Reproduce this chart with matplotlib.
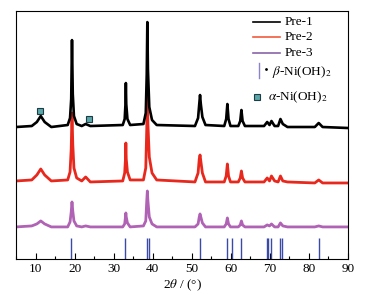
import matplotlib
matplotlib.use('Agg')
import matplotlib.pyplot as plt
from matplotlib.lines import Line2D
from matplotlib.ticker import MultipleLocator

plt.rcParams['font.family'] = ['Liberation Serif', 'DejaVu Serif']
plt.rcParams['mathtext.fontset'] = 'stix'

# 2theta sample points (shared by the three patterns)
two_theta = [5,
             9.0, 10.3, 11.3, 12.3, 14.0,
             18.2, 18.8, 19.1, 19.3, 19.5, 19.8, 20.5,
             21.8, 22.8, 24.0,
             32.3, 32.8, 33.0, 33.1, 33.2, 33.5, 34.2,
             37.6, 38.2, 38.45, 38.6, 38.75, 39.1, 39.8, 41.0,
             50.8, 51.6, 51.9, 52.1, 52.3, 52.7, 53.5,
             58.3, 58.8, 59.1, 59.4, 59.9,
             61.9, 62.4, 62.7, 63.0, 63.6,
             68.5, 69.3, 69.9, 70.4, 71.2,
             72.1, 72.7, 73.3, 74.5,
             81.5, 82.5, 83.5,
             90]

# intensities (a.u., already stacked)
pre1 = [132,
        133, 137, 143, 137, 132,
        134, 141, 160, 219, 165, 143, 135,
        133, 135, 133,
        134, 140, 155, 176, 155, 140, 134,
        135, 146, 185, 237, 190, 152, 139, 134,
        133, 141, 155, 164, 155, 142, 134,
        133, 140, 155, 140, 133,
        133, 138, 149, 138, 133,
        133, 137, 134, 138, 133,
        133, 140, 135, 132,
        132, 136, 132,
        131]
pre2 = [78,
        79, 84, 90, 84, 78,
        79, 87, 110, 146, 115, 91, 81,
        78, 82, 77,
        78, 86, 100, 116, 100, 87, 79,
        79, 91, 130, 164, 135, 102, 86, 79,
        77, 86, 100, 104, 98, 86, 77,
        77, 83, 95, 83, 77,
        77, 81, 88, 81, 77,
        77, 81, 78, 83, 78,
        77, 83, 78, 77,
        76, 79, 76,
        76]
pre3 = [32,
        33, 35, 38, 35, 32,
        32, 37, 47, 57, 48, 38, 33,
        32, 33, 32,
        32, 35, 42, 46, 42, 36, 32,
        33, 38, 58, 68, 58, 42, 35, 32,
        32, 35, 42, 45, 42, 36, 32,
        32, 35, 41, 35, 32,
        32, 34, 38, 34, 32,
        32, 34, 33, 35, 32,
        32, 36, 33, 32,
        32, 33, 32,
        32]

# beta-Ni(OH)2 reference reflections
beta_pos = [19.1, 33.0, 38.4, 39.0, 52.05, 59.05, 60.2, 62.6, 69.2, 69.5,
            70.3, 72.6, 73.0, 82.6]
# alpha-Ni(OH)2 markers on Pre-1
alpha_pos = [11.2, 23.7]
alpha_y = [148, 140]

fig = plt.figure(figsize=(3.76, 3.0), dpi=100)
ax = fig.add_axes([0.043, 0.137, 0.8825, 0.826])

ax.plot(two_theta, pre3, color='#b062b4', lw=2.0)
ax.plot(two_theta, pre2, color='#e8281c', lw=2.0)
ax.plot(two_theta, pre1, color='black', lw=1.9)
ax.vlines(beta_pos, 0, 21, color='#3a4aa6', lw=1.0)
ax.plot(alpha_pos, alpha_y, 's', ms=4.5, mfc='#5aa6a8', mec='#1e3c46', mew=0.8)

ax.set_xlim(5, 90)
ax.set_ylim(0, 248)
ax.set_yticks([])
ax.xaxis.set_major_locator(MultipleLocator(10))
ax.xaxis.set_minor_locator(MultipleLocator(5))
ax.tick_params(axis='x', which='major', direction='in', length=4, width=0.8,
               labelsize=9.5, pad=3)
ax.tick_params(axis='x', which='minor', direction='in', length=2, width=0.8)
ax.set_xlabel(r'2$\theta$ / (°)', fontsize=9.5, labelpad=2)

# legend drawn by hand
tr = ax.transAxes
fs = 9.5
for yy, c, lab in [(0.956, 'black', 'Pre-1'), (0.895, '#f05a3c', 'Pre-2'),
                   (0.831, '#8a64a8', 'Pre-3')]:
    ax.add_line(Line2D([0.714, 0.795], [yy, yy], color=c, lw=1.2, transform=tr))
    ax.text(0.81, yy, lab, transform=tr, fontsize=fs, va='center')
ax.add_line(Line2D([0.732, 0.732], [0.73, 0.79], color='#8a84c8', lw=1.0,
                   transform=tr))
ax.plot([0.753], [0.768], '.', ms=2, color='black', transform=tr)
ax.text(0.772, 0.755, r'$\beta$-Ni(OH)$_2$', transform=tr, fontsize=fs,
        va='center')
ax.plot([0.725], [0.653], 's', ms=4.5, mfc='#5aa6a8', mec='#1e3c46', mew=0.8,
        transform=tr)
ax.text(0.76, 0.653, r'$\alpha$-Ni(OH)$_2$', transform=tr, fontsize=fs,
        va='center')

fig.savefig('out.png', dpi=100)
